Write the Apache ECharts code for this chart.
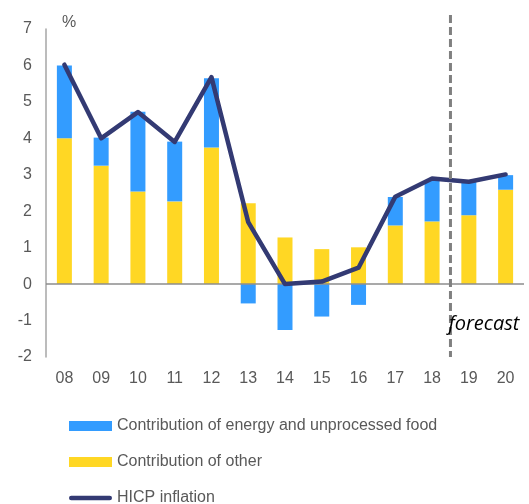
<!DOCTYPE html>
<html>
<head>
<meta charset="utf-8">
<script src="https://cdn.jsdelivr.net/npm/echarts@6/dist/echarts.min.js"></script>
<style>
  html, body { margin: 0; padding: 0; background: #fff; }
  #main { width: 529px; height: 504px; }
</style>
</head>
<body>
<div id="main"></div>
<script>
// years (2008 - 2020), last two are forecast
var years = ['08', '09', '10', '11', '12', '13', '14', '15', '16', '17', '18', '19', '20']
var otherContrib = [4.0, 3.25, 2.54, 2.27, 3.75, 2.22, 1.28, 0.96, 1.01, 1.61, 1.72, 1.89, 2.59]
var energyContrib = [2.0, 0.77, 2.19, 1.64, 1.9, -0.53, -1.26, -0.89, -0.57, 0.78, 1.12, 0.91, 0.4]
var hicp = [6.02, 4.0, 4.72, 3.9, 5.68, 1.7, 0.0, 0.07, 0.45, 2.4, 2.9, 2.81, 3.01]
var forecastFrom = '19'

var labelColor = '#595959'
var font = 'Liberation Sans, Arial, sans-serif'
// thick line with round ends for the HICP legend entry
var lineIcon = 'path://M2.5,0 L43.5,0 A2.5,2.5 0 0 1 43.5,5 L2.5,5 A2.5,2.5 0 0 1 2.5,0 Z'

var chart = echarts.init(document.getElementById('main'))

var option = {
  animation: false,
  grid: { left: 46, right: 5, top: 29, bottom: 147 },
  legend: {
    orient: 'vertical',
    left: 64,
    top: 413,
    height: 110,
    itemWidth: 43,
    itemHeight: 10,
    itemGap: 20,
    textStyle: { color: labelColor, fontSize: 16, fontFamily: font },
    data: [
      { name: 'Contribution of energy and unprocessed food', icon: 'rect' },
      { name: 'Contribution of other', icon: 'rect' },
      { name: 'HICP inflation', icon: lineIcon }
    ]
  },
  xAxis: {
    type: 'category',
    data: years,
    axisLine: { show: false },
    axisTick: { show: false },
    axisLabel: { color: labelColor, fontSize: 16, fontFamily: font, margin: 14 }
  },
  yAxis: {
    type: 'value',
    min: -2,
    max: 7,
    interval: 1,
    splitLine: { show: false },
    axisLine: { show: true, lineStyle: { color: '#a6a6a6', width: 1.5 } },
    axisTick: { show: false },
    axisLabel: { color: labelColor, fontSize: 16, fontFamily: font, margin: 14 }
  },
  series: [
    {
      name: 'Contribution of other',
      type: 'bar',
      stack: 'c',
      barWidth: 15,
      data: otherContrib,
      itemStyle: { color: '#FFD724' },
      markLine: {
        silent: true,
        symbol: 'none',
        label: { show: false },
        lineStyle: { color: '#8c8c8c', width: 1.5, type: 'solid' },
        data: [{ yAxis: 0 }]
      }
    },
    {
      name: 'Contribution of energy and unprocessed food',
      type: 'bar',
      stack: 'c',
      barWidth: 15,
      data: energyContrib,
      itemStyle: { color: '#339CFF' }
    },
    {
      name: 'HICP inflation',
      type: 'line',
      data: hicp,
      symbol: 'none',
      z: 5,
      lineStyle: { color: '#333A73', width: 4.5, cap: 'round', join: 'round' },
      itemStyle: { color: '#333A73' }
    }
  ]
}
chart.setOption(option)

// dashed separator between actuals and forecast, plus the labels
var i = years.indexOf(forecastFrom)
var xSep = (chart.convertToPixel({ xAxisIndex: 0 }, years[i - 1]) + chart.convertToPixel({ xAxisIndex: 0 }, years[i])) / 2
var yBottom = chart.convertToPixel({ yAxisIndex: 0 }, -2)
chart.setOption({
  graphic: [
    {
      type: 'line',
      shape: { x1: xSep, y1: 15, x2: xSep, y2: yBottom },
      style: { stroke: '#808080', lineWidth: 3, lineDash: [8, 4] },
      z: 10
    },
    {
      type: 'text',
      x: xSep - 2,
      y: 314,
      style: { text: 'forecast', fill: '#000', fontSize: 20, fontStyle: 'italic', fontFamily: 'Open Sans, sans-serif' },
      z: 11
    },
    {
      type: 'text',
      x: 62,
      y: 15,
      style: { text: '%', fill: labelColor, fontSize: 16, fontFamily: font }
    }
  ]
})
</script>
</body>
</html>
